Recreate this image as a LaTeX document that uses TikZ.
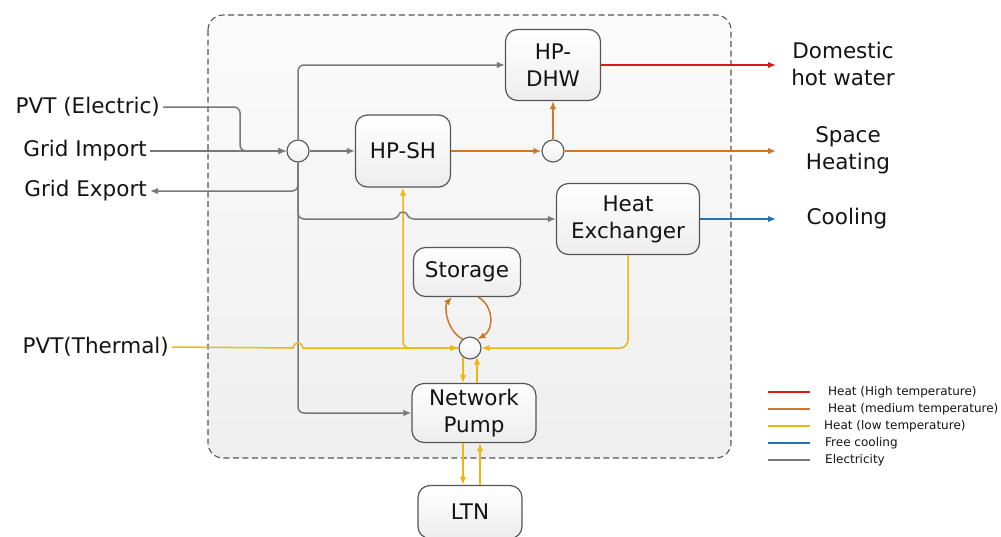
\documentclass[tikz,border=0pt]{standalone}
\usepackage{fontspec}
\setmainfont{DejaVu Sans}
\usetikzlibrary{arrows.meta,calc}
\definecolor{cHigh}{RGB}{220,25,25}
\definecolor{cMed}{RGB}{205,120,40}
\definecolor{cLow}{RGB}{240,182,15}
\definecolor{cCool}{RGB}{35,115,180}
\definecolor{cElec}{RGB}{120,120,120}
\definecolor{cBorder}{RGB}{85,85,85}
\definecolor{cText}{RGB}{20,20,20}
\tikzset{
  tip/.style={-{Latex[length=8pt,width=6.5pt]}},
  wire/.style={line width=1.5pt},
  elec/.style={wire,draw=cElec,tip,color=cElec},
  high/.style={wire,draw=cHigh,tip,color=cHigh},
  med/.style={wire,draw=cMed,tip,color=cMed},
  low/.style={wire,draw=cLow,tip,color=cLow},
  cool/.style={wire,draw=cCool,tip,color=cCool},
  box/.style={draw=cBorder,line width=1.2pt,rounded corners=12pt,top color=white,bottom color=gray!14,
    align=center,text=cText,font=\fontsize{21.5}{27}\selectfont,inner sep=0pt},
  junc/.style={circle,draw=cBorder,line width=1.1pt,top color=white,bottom color=gray!12,minimum size=22pt,inner sep=0pt},
  lab/.style={text=cText,font=\fontsize{21.5}{27}\selectfont,align=center,inner sep=3pt},
  legtext/.style={text=cText,font=\fontsize{12}{14}\selectfont,anchor=west,inner sep=0pt},
  legline/.style={line width=2pt},
}
\begin{document}
\begin{tikzpicture}[x=1pt,y=-1pt]
\useasboundingbox (0,0) rectangle (1001,536);
\fill[white] (0,0) rectangle (1001,536);
% dashed system boundary
\draw[draw=cBorder,line width=1.1pt,dash pattern=on 6pt off 3.5pt,rounded corners=15pt,top color=gray!3,bottom color=gray!13]
  (208,15) rectangle (731,458);

% nodes
\node[box,minimum width=95pt,minimum height=71pt] (dhw) at (553,65) {HP-\\DHW};
\node[box,minimum width=95pt,minimum height=72pt] (hpsh) at (403,151) {HP-SH};
\node[box,minimum width=143pt,minimum height=71pt] (he) at (628,219) {Heat\\Exchanger};
\node[box,minimum width=107pt,minimum height=49pt] (sto) at (467,272) {Storage};
\node[box,minimum width=124pt,minimum height=59pt] (pump) at (474,413) {Network\\Pump};
\node[box,minimum width=104pt,minimum height=53pt] (ltn) at (470,512) {LTN};

\node[junc] (j1) at (298,151) {};
\node[junc] (j2) at (553,151) {};
\node[junc] (j3) at (470,348) {};

% left labels
\node[lab,anchor=east] (pvte) at (163,107) {PVT (Electric)};
\node[lab,anchor=east] (gi) at (150,151) {Grid Import};
\node[lab,anchor=east] (ge) at (150,191) {Grid Export};
\node[lab,anchor=east] (pvtt) at (172,347) {PVT(Thermal)};
% right labels
\node[lab] (dhwl) at (843,63.5) {Domestic\\hot water};
\node[lab] (shl) at (848,150) {Space\\Heating};
\node[lab] (cooll) at (847,219) {Cooling};
\coordinate (dhwEnd) at (776,65);
\coordinate (shEnd) at (776,151);
\coordinate (coolEnd) at (776,219);

% electricity
\draw[elec] (gi.east) -- (j1.west);
\draw[elec,rounded corners=6pt] (pvte.east) -- (240,107) -- (240,151) -- (j1.west);
\draw[elec,rounded corners=6pt] (j1.south) |- (ge.east);
\draw[elec,rounded corners=6pt] (j1.north) |- (dhw.west);
\draw[elec] (j1.east) -- (hpsh.west);
\draw[elec,rounded corners=6pt] (j1.south) |- (pump.west);

% low temperature (drawn before the gray hop)
\draw[low,rounded corners=6pt] (j3.west) -| (hpsh.south);
\draw[low,rounded corners=8pt] (he.south) |- (j3.east);
\draw[low] (pvtt.east) -- (293,348) .. controls (295,341) and (301,341) .. (303,348) -- (j3.west);
\coordinate (a1) at ($(j3.center)+(-7,8.5)$);
\coordinate (a2) at ($(j3.center)+(7,8.5)$);
\draw[low] (a1) -- (a1 |- pump.north);
\draw[low] (a2 |- pump.north) -- (a2);
\coordinate (b1) at ($(pump.south)+(-11,0)$);
\coordinate (b2) at ($(pump.south)+(6,0)$);
\draw[low] (b1) -- (b1 |- ltn.north);
\draw[low] (b2 |- ltn.north) -- (b2);

% gray line to heat exchanger with hop over yellow
\draw[elec,rounded corners=6pt] (j1.south) -- (298,219) -- (398,219) .. controls (400,212) and (406,212) .. (408,219) -- (he.west);

% medium temperature
\draw[med] (hpsh.east) -- (j2.west);
\draw[med] (j2.north) -- (dhw.south);
\draw[med] (j2.east) -- (shEnd);
\draw[med] (j3.130) .. controls (446,330) and (444,306) .. (sto.-121);
\draw[med] (sto.-66) .. controls (494,306) and (494,330) .. (j3.50);

% high temp and cooling
\draw[high] (dhw.east) -- (dhwEnd);
\draw[cool] (he.east) -- (coolEnd);

% legend
\node[legtext] (l1) at (828,392) {Heat (High temperature)};
\node[legtext] (l2) at (828,409) {Heat (medium temperature)};
\node[legtext] (l3) at (824,426) {Heat (low temperature)};
\node[legtext] (l4) at (825,443) {Free cooling};
\node[legtext] (l5) at (825,460) {Electricity};
\draw[legline,cHigh] (768,392) -- (810,392);
\draw[legline,cMed] (768,409) -- (810,409);
\draw[legline,cLow] (768,426) -- (810,426);
\draw[legline,cCool] (768,443) -- (810,443);
\draw[legline,cElec] (768,460) -- (810,460);
\end{tikzpicture}
\end{document}
